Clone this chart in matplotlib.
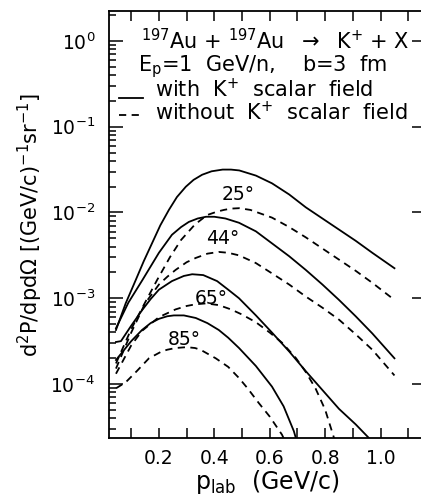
import numpy as np
import matplotlib
matplotlib.use("Agg")
import matplotlib.pyplot as plt
from matplotlib.ticker import MultipleLocator, LogLocator, NullFormatter

# log10 of d2P/dpdOmega, p in GeV/c
p25_s = [0.045, 0.08, 0.116, 0.145, 0.175, 0.205, 0.236, 0.265, 0.297, 0.325, 0.356, 0.39, 0.43, 0.46,
         0.49, 0.55, 0.608, 0.67, 0.73, 0.79, 0.85, 0.91, 0.97, 1.05]
y25_s = [-3.37, -3.06, -2.79, -2.57, -2.36, -2.15, -1.97, -1.82, -1.70, -1.62, -1.56, -1.52, -1.50, -1.50,
         -1.51, -1.57, -1.66, -1.79, -1.94, -2.07, -2.20, -2.33, -2.47, -2.65]
p25_d = [0.045, 0.1, 0.15, 0.193, 0.24, 0.28, 0.33, 0.374, 0.41, 0.435, 0.46, 0.49, 0.53, 0.608, 0.67,
         0.73, 0.79, 0.85, 0.91, 0.97, 1.05]
y25_d = [-3.76, -3.36, -3.05, -2.79, -2.52, -2.32, -2.14, -2.03, -1.99, -1.97, -1.955, -1.95, -1.97, -2.06, -2.17,
         -2.29, -2.42, -2.55, -2.68, -2.82, -3.02]

p44_s = [0.045, 0.09, 0.14, 0.2, 0.247, 0.28, 0.308, 0.34, 0.37, 0.40, 0.44, 0.489, 0.55, 0.608, 0.67,
         0.73, 0.79, 0.85, 0.91, 0.97, 1.05]
y44_s = [-3.35, -3.05, -2.79, -2.47, -2.26, -2.17, -2.11, -2.07, -2.05, -2.05, -2.07, -2.12, -2.22, -2.36, -2.51,
         -2.67, -2.84, -3.02, -3.21, -3.41, -3.70]
p44_d = [0.045, 0.1, 0.15, 0.2, 0.23, 0.26, 0.3, 0.333, 0.375, 0.416, 0.45, 0.489, 0.55, 0.608, 0.67,
         0.73, 0.79, 0.85, 0.91, 0.97, 1.05]
y44_d = [-3.82, -3.40, -3.06, -2.84, -2.75, -2.67, -2.58, -2.53, -2.48, -2.46, -2.47, -2.50, -2.59, -2.71, -2.84,
         -2.98, -3.11, -3.25, -3.42, -3.60, -3.90]

p65_s = [0.045, 0.063, 0.1, 0.139, 0.17, 0.2, 0.247, 0.29, 0.32, 0.36, 0.41, 0.45, 0.489, 0.55, 0.608,
         0.67, 0.73, 0.79, 0.85, 0.91, 0.958, 0.98]
y65_s = [-3.51, -3.50, -3.32, -3.14, -3.01, -2.90, -2.80, -2.74, -2.72, -2.73, -2.80, -2.90, -3.00, -3.20, -3.40,
         -3.62, -3.85, -4.07, -4.29, -4.47, -4.63, -4.72]
p65_d = [0.045, 0.1, 0.139, 0.2, 0.26, 0.3, 0.333, 0.37, 0.416, 0.46, 0.5, 0.55, 0.6, 0.645, 0.695,
         0.73, 0.765, 0.80, 0.832, 0.845]
y65_d = [-3.88, -3.55, -3.38, -3.22, -3.13, -3.09, -3.07, -3.06, -3.08, -3.13, -3.19, -3.28, -3.40, -3.52, -3.70,
         -3.86, -4.05, -4.30, -4.63, -4.75]

p85_s = [0.045, 0.1, 0.139, 0.17, 0.2, 0.23, 0.254, 0.29, 0.333, 0.375, 0.416, 0.45, 0.489, 0.55, 0.608,
         0.65, 0.687, 0.705]
y85_s = [-3.72, -3.50, -3.37, -3.29, -3.24, -3.21, -3.20, -3.20, -3.23, -3.29, -3.37, -3.46, -3.58, -3.79, -4.03,
         -4.26, -4.55, -4.75]
p85_d = [0.045, 0.08, 0.12, 0.164, 0.21, 0.23, 0.26, 0.3, 0.33, 0.35, 0.405, 0.45, 0.489, 0.52, 0.56,
         0.6, 0.644, 0.66]
y85_d = [-4.05, -3.98, -3.85, -3.70, -3.62, -3.60, -3.58, -3.57, -3.58, -3.60, -3.70, -3.80, -3.93, -4.05, -4.22,
         -4.38, -4.59, -4.70]

angles = ["25°", "44°", "65°", "85°"]
label_pos = [(0.487, -1.79), (0.43, -2.30), (0.39, -3.00), (0.29, -3.48)]

plt.rcParams['font.family'] = ['DejaVu Sans']
plt.rcParams['mathtext.fontset'] = 'dejavusans'

fig = plt.figure(figsize=(4.21, 4.95), dpi=100)
ax = fig.add_axes([0.259, 0.115, 1.012 - 0.259, 0.978 - 0.115])

lw = 1.3
solid = [(p25_s, y25_s), (p44_s, y44_s), (p65_s, y65_s), (p85_s, y85_s)]
dashed = [(p25_d, y25_d), (p44_d, y44_d), (p65_d, y65_d), (p85_d, y85_d)]
for p, y in solid:
    ax.plot(p, np.power(10.0, y), color='black', lw=lw)
for p, y in dashed:
    ax.plot(p, np.power(10.0, y), color='black', lw=lw, dashes=(4, 3))

for a, (px, py) in zip(angles, label_pos):
    ax.text(px, 10 ** py, a, fontsize=13.5, ha='center', va='center')

ax.set_yscale('log')
ax.set_xlim(0.02, 1.164)
ax.set_ylim(10 ** -4.63, 10 ** 0.35)

ax.xaxis.set_major_locator(MultipleLocator(0.2))
ax.xaxis.set_minor_locator(MultipleLocator(0.1))
ax.yaxis.set_major_locator(LogLocator(base=10, numticks=10))
ax.yaxis.set_minor_locator(LogLocator(base=10, subs=np.arange(2, 10), numticks=10))
ax.yaxis.set_minor_formatter(NullFormatter())

ax.tick_params(which='both', direction='in', top=True, right=True, labelsize=13.5, width=1.1)
ax.tick_params(axis='x', which='both', length=7, pad=8)
ax.tick_params(axis='y', which='major', length=10, pad=10)
ax.tick_params(axis='y', which='minor', length=5, right=False)
for s in ax.spines.values():
    s.set_linewidth(1.3)

ax.set_xlabel(r'p$_{\rm lab}$  (GeV/c)', fontsize=17, labelpad=0)
ax.set_ylabel(r'd$^2$P/dpd$\Omega$ [(GeV/c)$^{-1}$sr$^{-1}$]', fontsize=15, labelpad=4)

# header text and legend
tr = ax.transAxes
fs = 15
ax.text(0.10, 0.930, r'$^{197}$Au + $^{197}$Au  $\rightarrow$  K$^{+}$ + X', fontsize=fs, transform=tr, va='center')
ax.text(0.09, 0.869, r'E$_{\rm p}$=1  GeV/n,    b=3  fm', fontsize=fs, transform=tr, va='center')
ax.plot([0.03, 0.108], [0.797, 0.797], color='black', lw=lw, transform=tr)
ax.text(0.146, 0.815, r'with  K$^{+}$  scalar  field', fontsize=fs, transform=tr, va='center')
ax.plot([0.03, 0.108], [0.756, 0.756], color='black', lw=lw, dashes=(4, 3), transform=tr)
ax.text(0.146, 0.763, r'without  K$^{+}$  scalar  field', fontsize=fs, transform=tr, va='center')

fig.savefig('out.png', dpi=100)
